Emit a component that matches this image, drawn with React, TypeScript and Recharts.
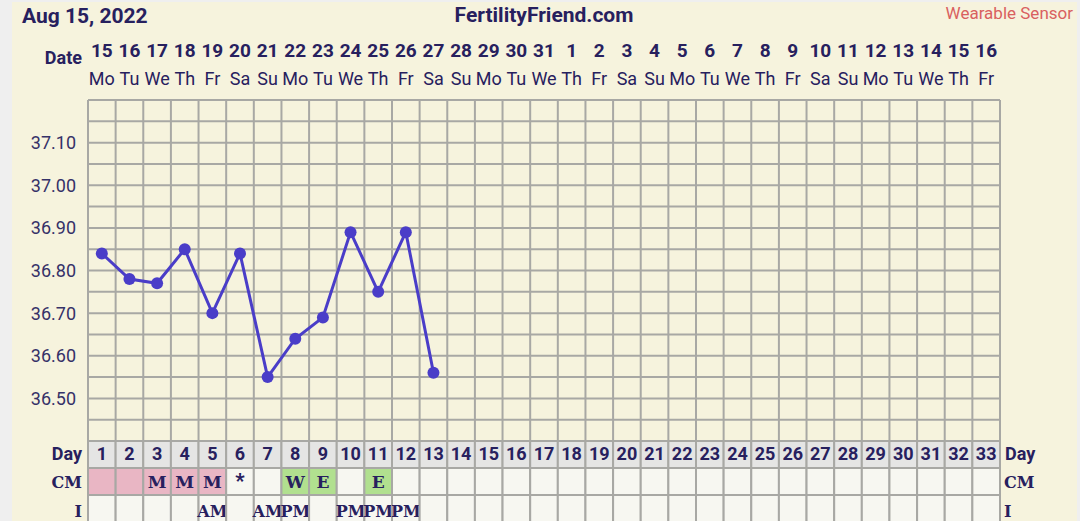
import { ComposedChart, Line, XAxis, YAxis, CartesianGrid, ReferenceLine } from "recharts"

// cycle day, calendar date and weekday for each column
const cycleDays = [1, 2, 3, 4, 5, 6, 7, 8, 9, 10, 11, 12, 13, 14, 15, 16, 17, 18, 19, 20, 21, 22, 23, 24, 25, 26, 27, 28, 29, 30, 31, 32, 33]
const dateLabels = [15, 16, 17, 18, 19, 20, 21, 22, 23, 24, 25, 26, 27, 28, 29, 30, 31, 1, 2, 3, 4, 5, 6, 7, 8, 9, 10, 11, 12, 13, 14, 15, 16]
const weekdays = ["Mo", "Tu", "We", "Th", "Fr", "Sa", "Su", "Mo", "Tu", "We", "Th", "Fr", "Sa", "Su", "Mo", "Tu", "We", "Th", "Fr", "Sa", "Su", "Mo", "Tu", "We", "Th", "Fr", "Sa", "Su", "Mo", "Tu", "We", "Th", "Fr"]

// temperatures (C) recorded so far
const temps = [36.84, 36.78, 36.77, 36.85, 36.70, 36.84, 36.55, 36.64, 36.69, 36.89, 36.75, 36.89, 36.56]

// cervical mucus, period days, intercourse
const cervicalMucus = ["", "", "M", "M", "M", "*", "", "W", "E", "", "E", "", ""]
const periodDays = [1, 2, 3, 4, 5]
const intercourse = ["", "", "", "", "AM", "", "AM", "PM", "", "PM", "PM", "PM", ""]

const tempTicks = [36.4, 36.45, 36.5, 36.55, 36.6, 36.65, 36.7, 36.75, 36.8, 36.85, 36.9, 36.95, 37.0, 37.05, 37.1, 37.15, 37.2]
const labelledTicks = ["36.50", "36.60", "36.70", "36.80", "36.90", "37.00", "37.10"]

const NAVY = "#27205e"
const GRID = "#a8a8a4"
const LINE = "#4a3dc8"
const COL_W = 912 / 33

const data = cycleDays.map((d, i) => ({ day: d, temp: temps[i] ?? null }))
const columnEdges = [0, ...cycleDays].map(d => d + 0.5)

const fmtTemp = (v: number) => {
    const s = v.toFixed(2)
    return labelledTicks.includes(s) ? s : ""
}

const TopTick = (props: any) => {
    const { x, y, payload } = props
    const i = cycleDays.indexOf(payload.value)
    return (
        <g>
            <text x={x} y={y - 43} textAnchor="middle" fontFamily="Roboto" fontWeight={700} fontSize={19} fill={NAVY}>{dateLabels[i]}</text>
            <text x={x} y={y - 15} textAnchor="middle" fontFamily="Roboto" fontSize={18} fill={NAVY}>{weekdays[i]}</text>
        </g>
    )
}

const BottomTick = (props: any) => {
    const { x, y, payload } = props
    const d = payload.value
    const i = cycleDays.indexOf(d)
    const cm = cervicalMucus[i] ?? ""
    const sex = intercourse[i] ?? ""
    let cmFill = "#f7f7f1"
    if (periodDays.includes(d)) cmFill = "#e9b6c4"
    else if (cm === "W" || cm === "E") cmFill = "#b1e08f"
    const left = x - COL_W / 2
    return (
        <g>
            <rect x={left} y={y} width={COL_W} height={27} fill="#e5e5e4" stroke={GRID} strokeWidth={2} />
            <rect x={left} y={y + 27} width={COL_W} height={27} fill={cmFill} stroke={GRID} strokeWidth={2} />
            <rect x={left} y={y + 54} width={COL_W} height={30} fill="#f7f7f1" stroke={GRID} strokeWidth={2} />
            <text x={x} y={y + 19} textAnchor="middle" fontFamily="Roboto" fontWeight={700} fontSize={18} fill={NAVY}>{d}</text>
            {cm === "*" && (
                <text x={x} y={y + 47} textAnchor="middle" fontFamily="Roboto" fontWeight={900} fontSize={20} fill={NAVY}>*</text>
            )}
            {cm && cm !== "*" && (
                <text x={x} y={y + 47} textAnchor="middle" fontFamily="DejaVu Serif" fontWeight={700} fontSize={17} fill={NAVY}>{cm}</text>
            )}
            {sex && (
                <text x={x} y={y + 76} textAnchor="middle" fontFamily="DejaVu Serif" fontWeight={700} fontSize={16} fill={NAVY}>{sex}</text>
            )}
        </g>
    )
}

export default function App() {
    return (
        <div style={{ position: "absolute", left: 0, top: 0, width: 1080, height: 521, background: "#efefef", overflow: "hidden" }}>
            <div style={{ position: "absolute", left: 12, top: 2, width: 1065, height: 519, background: "#f6f3dd" }} />
            <div style={{ position: "absolute", left: 0, top: 0 }}>
                <ComposedChart width={1080} height={521} data={data} margin={{ top: 0, right: 0, bottom: 0, left: 0 }}>
                    <CartesianGrid vertical={false} stroke={GRID} strokeWidth={2} />
                    <XAxis xAxisId="top" orientation="top" type="number" dataKey="day" domain={[0.5, 33.5]} ticks={cycleDays}
                        interval={0} height={100} tickSize={0} tickMargin={0} tickLine={false} axisLine={false} tick={TopTick} />
                    <XAxis type="number" dataKey="day" domain={[0.5, 33.5]} ticks={cycleDays}
                        interval={0} height={80} tickSize={0} tickMargin={0} tickLine={false} axisLine={false} tick={BottomTick} />
                    <YAxis domain={[36.4, 37.2]} ticks={tempTicks} width={88} tickFormatter={fmtTemp} tickLine={false} axisLine={false}
                        tickMargin={6} interval={0} tick={{ fill: "#353168", fontSize: 18, fontFamily: "Roboto" }} />
                    <YAxis yAxisId="right" orientation="right" domain={[36.4, 37.2]} ticks={tempTicks} width={80} tickFormatter={fmtTemp}
                        tickLine={false} axisLine={false} tickMargin={6} interval={0} tick={{ fill: "#353168", fontSize: 18, fontFamily: "Roboto" }} />
                    {columnEdges.map(e => (
                        <ReferenceLine key={e} x={e} stroke={GRID} strokeWidth={2} />
                    ))}
                    <Line dataKey="temp" stroke={LINE} strokeWidth={3} dot={{ r: 6, fill: LINE, stroke: LINE, strokeWidth: 0 }}
                        activeDot={false} isAnimationActive={false} />
                </ComposedChart>
            </div>
            <svg width={1080} height={521} style={{ position: "absolute", left: 0, top: 0, pointerEvents: "none" }}>
                <text x={22} y={23} fontFamily="Roboto" fontWeight={700} fontSize={21} fill={NAVY}>Aug 15, 2022</text>
                <text x={544} y={22} textAnchor="middle" fontFamily="Roboto" fontWeight={700} fontSize={21} fill={NAVY}>FertilityFriend.com</text>
                <text x={1073} y={19} textAnchor="end" fontFamily="Roboto" fontSize={17} fill="#d9605f">Wearable Sensor</text>
                <text x={82} y={64} textAnchor="end" fontFamily="Roboto" fontWeight={700} fontSize={18} fill={NAVY}>Date</text>
                <text x={82} y={460} textAnchor="end" fontFamily="Roboto" fontWeight={700} fontSize={18} fill={NAVY}>Day</text>
                <text x={82} y={488} textAnchor="end" fontFamily="DejaVu Serif" fontWeight={700} fontSize={16} fill={NAVY}>CM</text>
                <text x={82} y={517} textAnchor="end" fontFamily="DejaVu Serif" fontWeight={700} fontSize={16} fill={NAVY}>I</text>
                <text x={1005} y={460} fontFamily="Roboto" fontWeight={700} fontSize={18} fill={NAVY}>Day</text>
                <text x={1004} y={488} fontFamily="DejaVu Serif" fontWeight={700} fontSize={16} fill={NAVY}>CM</text>
                <text x={1004} y={517} fontFamily="DejaVu Serif" fontWeight={700} fontSize={16} fill={NAVY}>I</text>
            </svg>
        </div>
    )
}
